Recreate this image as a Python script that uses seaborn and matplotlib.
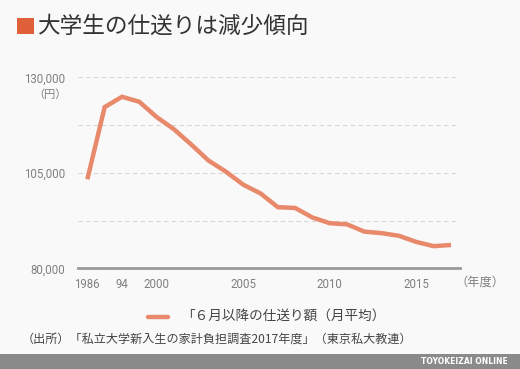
import matplotlib
matplotlib.use("Agg")
import matplotlib.pyplot as plt
import seaborn as sns
import pandas as pd
from matplotlib.patches import Rectangle
from matplotlib.lines import Line2D

years = ["1986", "1990", "1994", "1997", "2000", "2001", "2002", "2003", "2004",
         "2005", "2006", "2007", "2008", "2009", "2010", "2011", "2012", "2013",
         "2014", "2015", "2016", "2017"]
allowance = [103300, 122200, 124900, 123600, 119600, 116400, 112400, 108200, 105300,
             101900, 99600, 96000, 95800, 93300, 91800, 91500, 89600, 89200,
             88500, 86900, 85800, 86100]
tick_years = ["1986", "1994", "2000", "2005", "2010", "2015"]
tick_labels = ["1986", "94", "2000", "2005", "2010", "2015"]
y_ticks = [80000, 105000, 130000]
grid_levels = [92500, 105000, 117500, 130000]

title = "大学生の仕送りは減少傾向"
legend_label = "「６月以降の仕送り額（月平均）"
source = "（出所）「私立大学新入生の家計負担調査2017年度」（東京私大教連）"

sns.set_theme(style="white")
plt.rcParams["font.family"] = ["Noto Sans CJK JP", "DejaVu Sans"]

BG = "#f9f9f9"
LINE = "#e8896c"
GRAY = "#8a8a8a"
TICK = "#808080"

df = pd.DataFrame({"year": years, "value": allowance})
df["pos"] = range(len(df))

fig = plt.figure(figsize=(5.2, 3.69), dpi=100, facecolor=BG)
ax = fig.add_axes([78/520, 1-268.3/369, (460-78)/520, (268.3-77.3)/369])
ax.set_facecolor(BG)

for g in grid_levels:
    ax.axhline(g, color="#d6d6d6", lw=0.8, ls=(0, (4, 3)), zorder=0)

sns.lineplot(data=df, x="pos", y="value", ax=ax, color=LINE, lw=3.2,
             solid_capstyle="butt", solid_joinstyle="miter", legend=False, zorder=3)

ax.set_xlim(-0.54, 21.52)
ax.set_ylim(80000, 130000)
for s in ["top", "right", "left"]:
    ax.spines[s].set_visible(False)
ax.spines["bottom"].set_color("#9a9a9a")
ax.spines["bottom"].set_linewidth(2)
ax.spines["bottom"].set_zorder(4)

ax.set_xticks([years.index(y) for y in tick_years])
ax.set_xticklabels(tick_labels, fontfamily="Roboto", fontsize=8.3, color=TICK)
ax.tick_params(axis="x", direction="inout", length=8, width=0.8, color="#9a9a9a", pad=3)
ax.set_yticks(y_ticks)
ax.set_yticklabels([f"{v:,}" for v in y_ticks], fontfamily="Roboto", fontsize=8.3, color=TICK)
ax.tick_params(axis="y", length=0, pad=9)
ax.set_xlabel("")
ax.set_ylabel("")

fig.text(67/520, 1-95/369, "（円）", ha="right", va="center", fontsize=8, color=TICK)
fig.text(480/520, 1-282/369, "（年度）", ha="center", va="center", fontsize=8.8, color=TICK)

# title
fig.patches.append(Rectangle((17/520, 1-34/369), 17/520, 16/369, transform=fig.transFigure,
                             facecolor="#e0603a", edgecolor="none"))
fig.text(37/520, 1-26/369, title, ha="left", va="center", fontsize=16.3, color="#333333")

# legend
fig.lines.append(Line2D([148/520, 168/520], [1-317/369, 1-317/369], transform=fig.transFigure,
                        color=LINE, lw=3.2))
fig.text(181/520, 1-316/369, legend_label, ha="left", va="center", fontsize=9.8, color="#444444")

# source
fig.text(22/520, 1-339/369, source, ha="left", va="center", fontsize=8.7, color="#444444")

# bottom bar
fig.patches.append(Rectangle((0, 0), 1, 15/369, transform=fig.transFigure,
                             facecolor=GRAY, edgecolor="none"))
fig.text(508/520, 1-361/369, "TOYOKEIZAI ONLINE", ha="right", va="center", fontsize=5.5,
         fontweight="bold", color="white", fontfamily="DejaVu Sans")

fig.savefig("out.png", dpi=100, facecolor=BG)
